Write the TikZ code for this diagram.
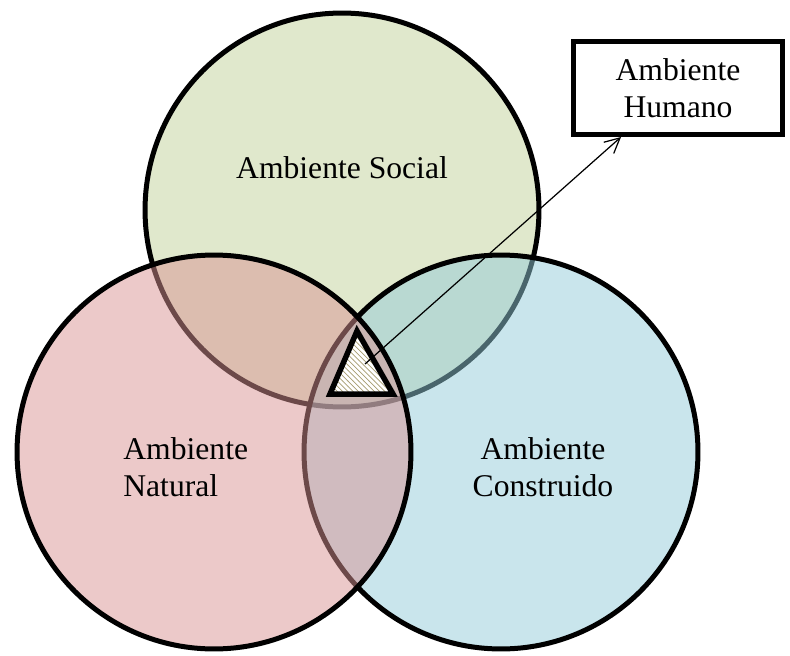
\documentclass[tikz,border=0pt]{standalone}
\usepackage{color, xcolor}
\usepackage{fontspec}
\setmainfont{Liberation Serif}
\usepackage{tikz}
\usetikzlibrary{positioning, patterns, arrows.meta}

\definecolor{verdesocial}{HTML}{E0E8CC}
\definecolor{rojonatural}{HTML}{D99393}
\definecolor{azulconstruido}{HTML}{93CBD9}
\definecolor{rayado}{HTML}{A69C70}

\tikzset{
  circulo/.style={draw=black, line width=0.1cm},
  texto/.style={font=\fontsize{18}{21}\selectfont, align=center, inner sep=0pt},
}

\begin{document}
\begin{tikzpicture}[x=0.02cm, y=-0.02cm]
            \useasboundingbox (0,0) rectangle (790,655);
            % los tres ambientes
            \draw [circulo, fill=verdesocial](342,210) circle [radius=3.94cm];
            \draw [circulo, fill=azulconstruido, fill opacity=0.5](501,452) circle [radius=3.94cm];
            \draw [circulo, fill=rojonatural, fill opacity=0.5](214,452) circle [radius=3.94cm];
            \node [texto] (social) at (342,168) {Ambiente Social};
            \node [texto, align=left, anchor=west] (natural) at (123,467) {Ambiente\\Natural};
            \node [texto] (construido) at (543,467) {Ambiente\\Construido};
            % triangulo del centro
            \draw [black, line width=0.11cm, miter limit=10, preaction={fill=white}, pattern=north west lines, pattern color=rayado](357,331)--(330,394)--(393,394)--cycle;
            \coordinate (tri) at (365,364);
            % recuadro
            \node [texto, draw=black, line width=0.1cm, minimum width=4.18cm, minimum height=1.88cm] (humano) at (678,88) {Ambiente\\Humano};
            \coordinate (punta) at (621,137);
            \draw [black, line width=0.7pt, -{Straight Barb[length=3mm, width=3mm]}](tri)--(punta);
\end{tikzpicture}
\end{document}
